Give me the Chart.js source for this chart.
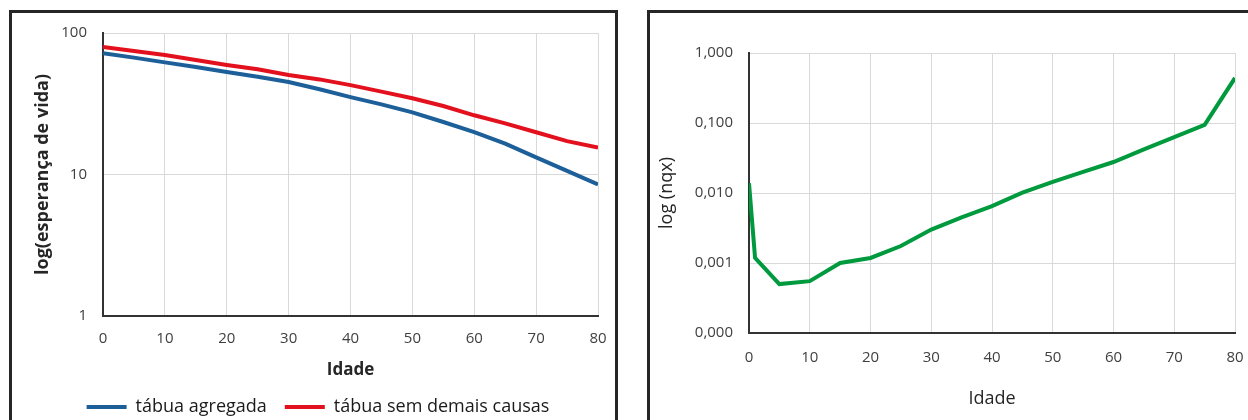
<!DOCTYPE html>
<html>
<head>
<meta charset="utf-8">
<script src="https://cdn.jsdelivr.net/npm/chart.js@4.4.1/dist/chart.umd.min.js"></script>
<style>
  body { margin:0; width:1248px; height:420px; overflow:hidden; background:#fff; position:relative; }
  .box { position:absolute; border:3px solid #262626; border-bottom:none; box-sizing:border-box; }
  #boxL { left:9px; top:10px; width:609px; height:420px; }
  #boxR { left:647px; top:10px; width:620px; height:420px; border-right:none; }
  canvas { position:absolute; }
  #left { left:12px; top:13px; }
  #right { left:650px; top:13px; }
</style>
</head>
<body>
<div class="box" id="boxL"></div>
<div class="box" id="boxR"></div>
<canvas id="left" width="603" height="414"></canvas>
<canvas id="right" width="598" height="414"></canvas>
<script>
// ===== DATA =====
const agesE = [0, 5, 10, 15, 20, 25, 30, 35, 40, 45, 50, 55, 60, 65, 70, 75, 80];
const eAgregada = [72, 67, 62, 57.5, 53, 49, 45, 40, 35.2, 31.3, 27.5, 23.5, 19.9, 16.5, 13.2, 10.6, 8.5];
const eSemDemais = [79.5, 74.5, 70, 64.5, 59.5, 55.5, 50.5, 47, 42.8, 38.5, 34.6, 30.5, 26.2, 23, 19.9, 17.2, 15.5];

const agesQ = [0, 1, 5, 10, 15, 20, 25, 30, 35, 40, 45, 50, 55, 60, 65, 70, 75, 80];
const nqx = [0.0138, 0.00118, 0.0005, 0.00055, 0.001, 0.00118, 0.00175, 0.003, 0.0045, 0.0065, 0.0101, 0.0144, 0.02, 0.0277, 0.042, 0.063, 0.094, 0.44];

const ticksE = [1, 10, 100];
const ticksQ = [0.0001, 0.001, 0.01, 0.1, 1];

const FONT = "'Open Sans', 'DejaVu Sans', sans-serif";
const GRID = "#d9d9d9";
const AXIS = "#333333";
const TICK = "#404040";

function pts(xs, ys){ return xs.map((x,i)=>({x:x, y:ys[i]})); }

function xScale(height, tickPad, titleText, titleFont, titlePad){
    return {
        type:"linear", min:0, max:80,
        ticks:{stepSize:10, padding:tickPad, color:TICK, font:{family:FONT, size:15}},
        grid:{color:GRID, lineWidth:1, drawTicks:false},
        border:{color:AXIS, width:2},
        title:{display:true, text:titleText, color:"#262626", font:titleFont, padding:{top:0, bottom:titlePad}},
        afterFit:(s)=>{ s.height = height; s.paddingLeft = 0; s.paddingRight = 0; }
    };
}

function yLog(min, max, tickVals, fmt, width, titleText, titleFont, titlePad){
    return {
        type:"logarithmic", min:min, max:max,
        afterBuildTicks:(s)=>{ s.ticks = tickVals.map(v=>({value:v})); },
        ticks:{padding:16, color:TICK, font:{family:FONT, size:15}, callback:fmt},
        grid:{color:GRID, lineWidth:1, drawTicks:false},
        border:{color:AXIS, width:2},
        title:{display:true, text:titleText, color:"#262626", font:titleFont, padding:{top:titlePad, bottom:0}},
        afterFit:(s)=>{ s.width = width; s.paddingTop = 0; s.paddingBottom = 0; }
    };
}

// shift legend a little right, as in the picture
const legendShift = {
    id:"legendShift",
    afterLayout(c){ if(c.legend){ c.legend.left += 13; c.legend.right += 13; } }
};

// ===== LEFT: esperança de vida =====
new Chart(document.getElementById("left"), {
    type:"line",
    data:{datasets:[
        {label:"tábua agregada", data:pts(agesE, eAgregada), borderColor:"#1c5f99", backgroundColor:"#1c5f99", borderWidth:4, pointRadius:0},
        {label:"tábua sem demais causas", data:pts(agesE, eSemDemais), borderColor:"#e3101d", backgroundColor:"#e3101d", borderWidth:4, pointRadius:0}
    ]},
    plugins:[legendShift],
    options:{
        responsive:false, animation:false, devicePixelRatio:1,
        layout:{padding:{left:0, right:17, top:20, bottom:1}},
        plugins:{
            tooltip:{enabled:false},
            legend:{position:"bottom",
                labels:{boxWidth:40, boxHeight:4, padding:18, color:"#1a1a1a", font:{family:FONT, size:18},
                    generateLabels:(c)=>Chart.defaults.plugins.legend.labels.generateLabels(c).map(l=>({...l, lineWidth:0}))}}
        },
        scales:{
            x:xScale(64, 14, "Idade", {family:FONT, size:17, weight:"bold"}, 0),
            y:yLog(1, 100, ticksE, (v)=>String(v), 91, "log(esperança de vida)", {family:FONT, size:18, weight:"bold"}, 20)
        }
    }
});

// ===== RIGHT: nqx =====
new Chart(document.getElementById("right"), {
    type:"line",
    data:{datasets:[
        {label:"nqx", data:pts(agesQ, nqx), borderColor:"#009a3e", backgroundColor:"#009a3e", borderWidth:4, pointRadius:0}
    ]},
    options:{
        responsive:false, animation:false, devicePixelRatio:1,
        layout:{padding:{left:0, right:13, top:40, bottom:14}},
        plugins:{tooltip:{enabled:false}, legend:{display:false}},
        scales:{
            x:xScale(80, 16, "Idade", {family:FONT, size:18}, 3),
            y:yLog(0.0001, 1, ticksQ, (v)=>v.toFixed(3).replace(".", ","), 99, "log (nqx)", {family:FONT, size:18}, 6)
        }
    }
});
</script>
</body>
</html>
